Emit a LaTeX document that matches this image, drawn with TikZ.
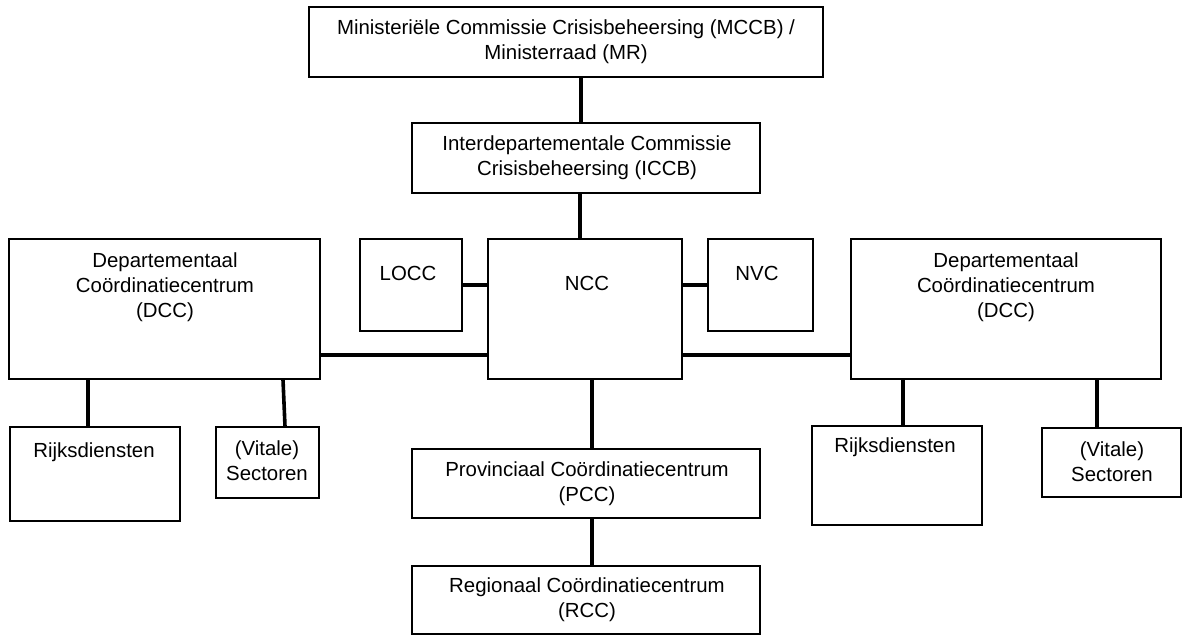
\documentclass[tikz,border=0pt]{standalone}
\usepackage{fontspec}
\setmainfont{Liberation Sans}
\newcommand\mystrut{\rule{0pt}{18pt}}
\begin{document}
\begin{tikzpicture}[x=1pt,y=-1pt,
  box/.style={draw=black, line width=1.3pt, inner sep=0pt, fill=none},
  txt/.style={anchor=north, inner sep=0pt, align=center, font=\fontsize{20.4}{25}\selectfont},
  conn/.style={draw=black, line width=3.6pt}]
\useasboundingbox (0,0) rectangle (1183,635);
% boxes
\node[box, minimum width=514pt, minimum height=70pt] (mccb) at (566,42) {};
\node[box, minimum width=348pt, minimum height=70pt] (iccb) at (586,158) {};
\node[box, minimum width=311pt, minimum height=140pt] (dccl) at (164.5,309) {};
\node[box, minimum width=102pt, minimum height=92pt] (locc) at (411,285) {};
\node[box, minimum width=194pt, minimum height=140pt] (ncc) at (585,309) {};
\node[box, minimum width=105pt, minimum height=92pt] (nvc) at (760.5,285) {};
\node[box, minimum width=310pt, minimum height=140pt] (dccr) at (1006,309) {};
\node[box, minimum width=170pt, minimum height=94pt] (rijksl) at (95,474) {};
\node[box, minimum width=103pt, minimum height=71pt] (sectl) at (267.5,462.5) {};
\node[box, minimum width=348pt, minimum height=69pt] (pcc) at (586,483.5) {};
\node[box, minimum width=348pt, minimum height=68pt] (rcc) at (586,600) {};
\node[box, minimum width=170pt, minimum height=99pt] (rijksr) at (897,475.5) {};
\node[box, minimum width=139pt, minimum height=69pt] (sectr) at (1111.5,462.5) {};
% texts
\node[txt] (t-mccb) at (566,16) {\mystrut Ministeriële Commissie Crisisbeheersing (MCCB) /\\Ministerraad (MR)};
\node[txt] (t-iccb) at (587,132) {\mystrut Interdepartementale Commissie\\Crisisbeheersing (ICCB)};
\node[txt] (t-dccl) at (165,249) {\mystrut Departementaal\\Coördinatiecentrum\\(DCC)};
\node[txt] (t-locc) at (408,262) {\mystrut LOCC};
\node[txt] (t-ncc) at (587,272) {\mystrut NCC};
\node[txt] (t-nvc) at (757,262) {\mystrut NVC};
\node[txt] (t-dccr) at (1006,249) {\mystrut Departementaal\\Coördinatiecentrum\\(DCC)};
\node[txt] (t-rijksl) at (94,439) {\mystrut Rijksdiensten};
\node[txt] (t-sectl) at (267,437) {\mystrut (Vitale)\\Sectoren};
\node[txt] (t-pcc) at (587,458) {\mystrut Provinciaal Coördinatiecentrum\\(PCC)};
\node[txt] (t-rcc) at (587,574) {\mystrut Regionaal Coördinatiecentrum\\(RCC)};
\node[txt] (t-rijksr) at (895,434) {\mystrut Rijksdiensten};
\node[txt] (t-sectr) at (1112,438) {\mystrut (Vitale)\\Sectoren};
% connectors
\draw[conn] (581,0 |- mccb.south) -- (581,0 |- iccb.north);
\draw[conn] (580,0 |- iccb.south) -- (580,0 |- ncc.north);
\draw[conn] (592,0 |- ncc.south) -- (592,0 |- pcc.north);
\draw[conn] (592,0 |- pcc.south) -- (592,0 |- rcc.north);
\draw[conn] (locc.east |- 0,285) -- (ncc.west |- 0,285);
\draw[conn] (ncc.east |- 0,285) -- (nvc.west |- 0,285);
\draw[conn] (dccl.east |- 0,355) -- (ncc.west |- 0,355);
\draw[conn] (ncc.east |- 0,355) -- (dccr.west |- 0,355);
\draw[conn] (88,0 |- dccl.south) -- (88,0 |- rijksl.north);
\draw[conn] (283,0 |- dccl.south) -- (285,0 |- sectl.north);
\draw[conn] (903,0 |- dccr.south) -- (903,0 |- rijksr.north);
\draw[conn] (1097,0 |- dccr.south) -- (1097,0 |- sectr.north);
\end{tikzpicture}
\end{document}
